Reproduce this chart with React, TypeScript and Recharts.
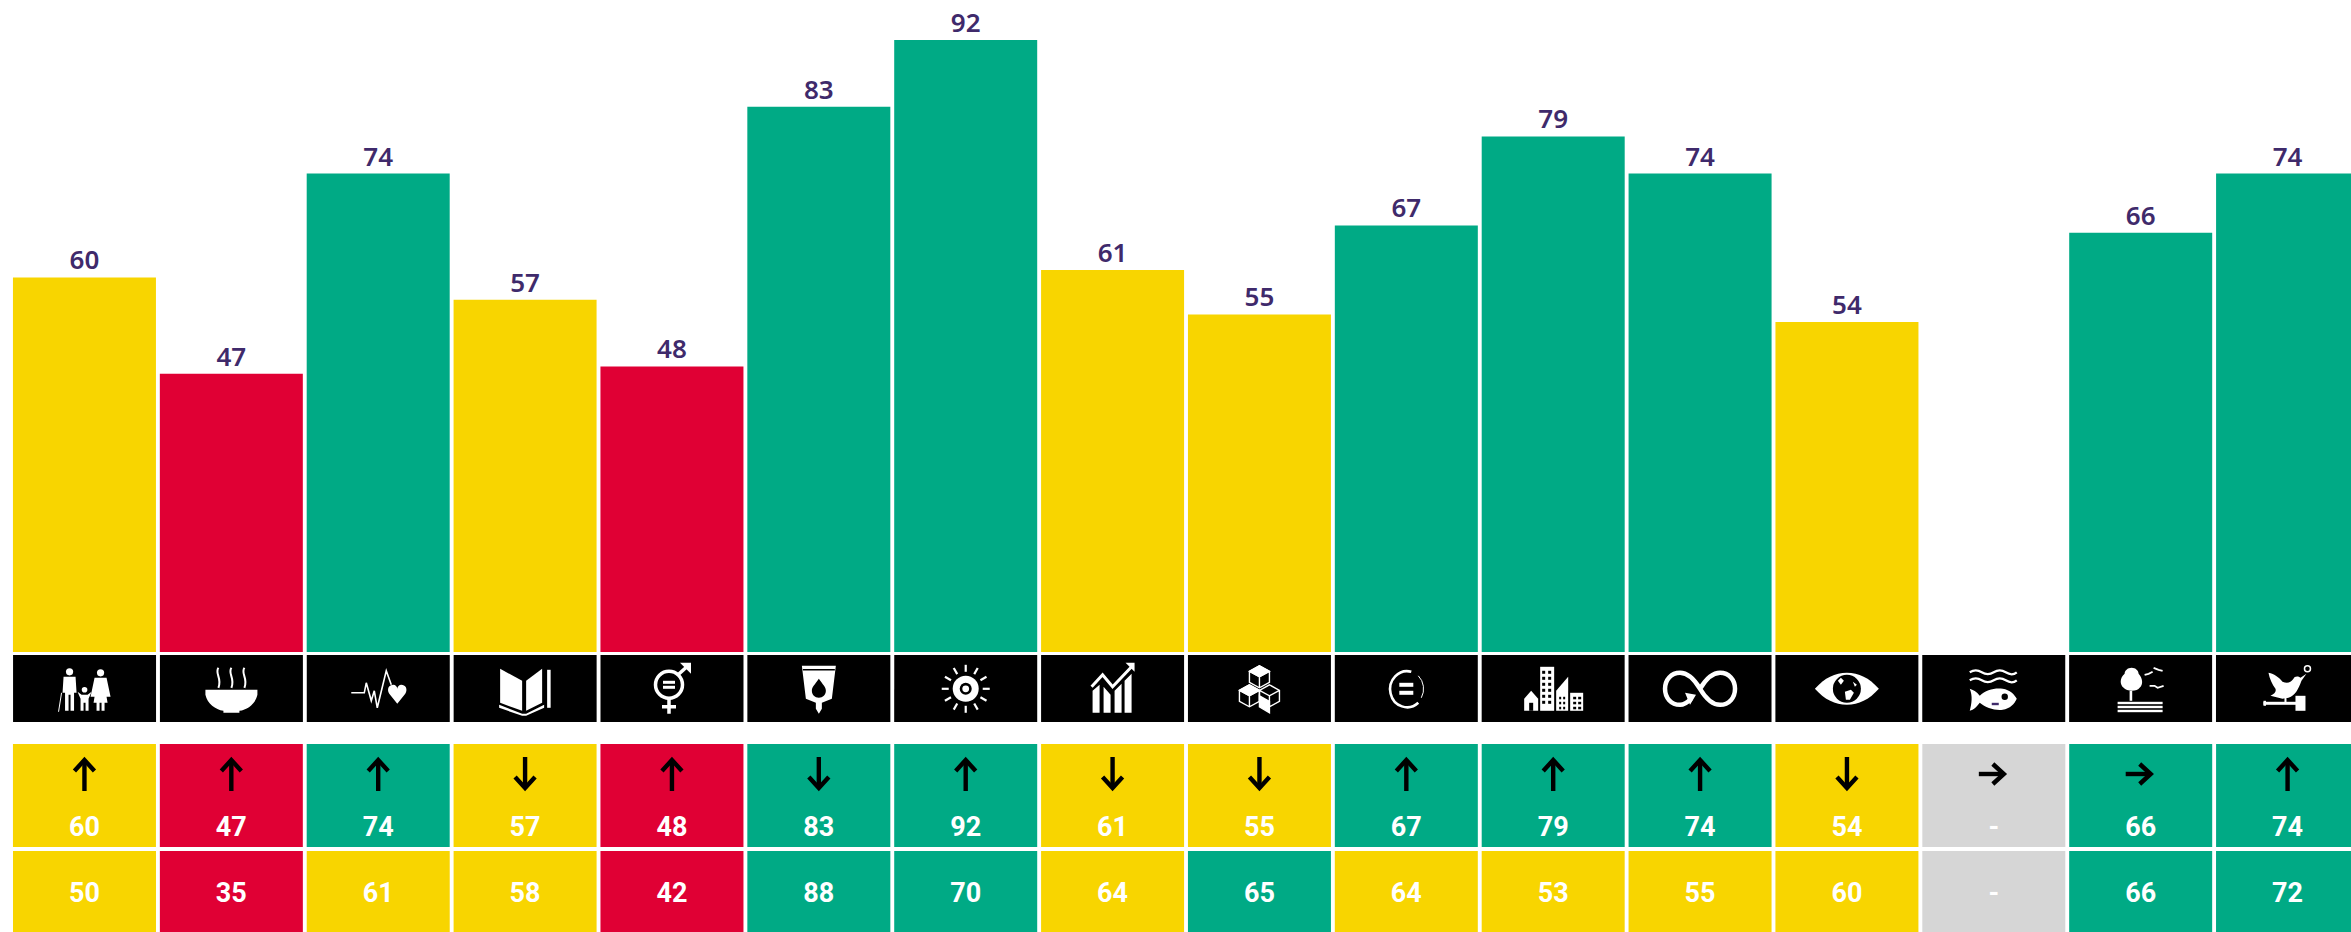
import { BarChart, Bar, Cell, LabelList, XAxis, YAxis } from "recharts";

const categories = [
  "SDG 1", "SDG 2", "SDG 3", "SDG 4", "SDG 5", "SDG 6", "SDG 7", "SDG 8",
  "SDG 9", "SDG 10", "SDG 11", "SDG 12", "SDG 13", "SDG 14", "SDG 15", "SDG 16",
];
const currentScores = [60, 47, 74, 57, 48, 83, 92, 61, 55, 67, 79, 74, 54, null, 66, 74];
const previousScores = [50, 35, 61, 58, 42, 88, 70, 64, 65, 64, 53, 55, 60, null, 66, 72];
const trends = ["up", "up", "up", "down", "up", "down", "up", "down", "down", "up", "up", "up", "down", "flat", "flat", "up"];

const GREEN = "#00aa85";
const YELLOW = "#f8d500";
const RED = "#e00034";
const GREY = "#d6d6d6";
const INK = "#3f2a6b";

const scoreColor = (v: number | null) => {
  if (v === null) return GREY;
  if (v >= 65) return GREEN;
  if (v >= 50) return YELLOW;
  return RED;
};

const table = categories.map((name, i) => ({
  name,
  current: currentScores[i],
  previous: previousScores[i],
  trend: trends[i],
  band: 1,
}));

const W = "#fff";
const K = "#000";

const Family = () => (
  <g fill={W}>
    <circle cx={-15} cy={-17} r={3.6} />
    <path d="M-21 -12H-9L-8 4H-10.5V22H-14V6H-16V22H-19.5V4H-22Z" />
    <path d="M-23 4L-26 23" stroke={W} strokeWidth={1} />
    <circle cx={0} cy={1} r={2.8} />
    <path d="M-7 3L-3 6H3L7 3L4 10V22H1V14H-1V22H-4V10Z" />
    <circle cx={16} cy={-16} r={3.6} />
    <path d="M10 -11H22L26 8H22L23 14H20V22H17V14H15V22H12V14H9L10 8H6Z" />
  </g>
);

const Bowl = () => (
  <g>
    <path d="M-26 1H26V6C24 15 16 21 8 22V24H-8V22C-16 21 -24 15 -26 6Z" fill={W} />
    <g fill="none" stroke={W} strokeWidth={2}>
      <path d="M-13 -21C-17 -15 -9 -11 -13 -1" />
      <path d="M0 -21C-4 -15 4 -11 0 -1" />
      <path d="M13 -21C9 -15 17 -11 13 -1" />
    </g>
  </g>
);

const Health = () => (
  <g>
    <path d="M-27 4H-14L-12 -6L-7 12L-4 2L-1 19L8 -18L13 -4" fill="none" stroke={W} strokeWidth={1.6} />
    <path d="M19 15L11 5C8 0 11 -4 15 -4C17 -4 19 -2 19 0C19 -2 21 -4 23 -4C27 -4 30 0 27 5Z" fill={W} />
  </g>
);

const BookIcon = () => (
  <g fill={W}>
    <path d="M-3 -8L-25 -20V14L-3 22Z" />
    <path d="M1 -8L17 -20V14L1 22Z" />
    <path d="M-26 16L-3 25H1L19 16V19L1 27H-3L-26 19Z" />
    <rect x={22} y={-19} width={3.5} height={38} />
  </g>
);

const Gender = () => (
  <g>
    <circle cx={-3} cy={-4} r={13.5} fill="none" stroke={W} strokeWidth={3.5} />
    <rect x={-9} y={-8} width={12} height={3} fill={W} />
    <rect x={-9} y={-3} width={12} height={3} fill={W} />
    <path d="M6 -14L16 -23" stroke={W} strokeWidth={3.5} />
    <path d="M8 -26H19V-15Z" fill={W} />
    <path d="M-3 10V25M-10 18H4" stroke={W} strokeWidth={3.5} />
  </g>
);

const Water = () => (
  <g>
    <path d="M-17 -23H17L13 10L3 14V20L0 25L-3 20V14L-13 10Z" fill={W} />
    <path d="M-16 -19H16" stroke={K} strokeWidth={1.5} />
    <path d="M0 -10C4 -4 7 -2 7 2C7 6 4 9 0 9C-4 9 -7 6 -7 2C-7 -2 -4 -4 0 -10Z" fill={K} />
  </g>
);

const Energy = () => (
  <g>
    {Array.from({ length: 12 }, (_, k) => (
      <path key={k} d="M0 -17V-24" stroke={W} strokeWidth={2.2} transform={`rotate(${k * 30})`} />
    ))}
    <circle r={13} fill={W} />
    <circle r={6} fill={K} />
    <circle r={3.4} fill={W} />
  </g>
);

const Growth = () => (
  <g>
    <path d="M-20 2L-13 -4V24H-20ZM-9 -2L-2 6V24H-9ZM2 2L9 -5V24H2ZM12 -8L19 -15V24H12Z" fill={W} />
    <path d="M-21 -2L-10 -14L0 -2L19 -22" fill="none" stroke={W} strokeWidth={3} />
    <path d="M13 -26H22V-17Z" fill={W} />
  </g>
);

const cubePath = "M0 -11L10 -5.5V5.5L0 11L-10 5.5V-5.5ZM-10 -5.5L0 0L10 -5.5M0 0V11";

const Cubes = () => (
  <g fill="none" stroke={W} strokeWidth={1.4}>
    <path d={cubePath} transform="translate(0,-12)" />
    <path d={cubePath} transform="translate(-10,7)" />
    <path d={cubePath} transform="translate(10,7)" />
    <path d="M0 -23L10 -17.5L0 -12L-10 -17.5Z" fill={W} />
    <path d="M-10 -4L0 1.5L-10 7L-20 1.5Z" fill={W} />
    <path d="M0 7L10 12.5V24L0 18Z" fill={W} />
  </g>
);

const Equal = () => (
  <g>
    <path d="M5 -17A17 18 0 1 0 12 14" fill="none" stroke={W} strokeWidth={2.6} />
    <path d="M12 -13A17 18 0 0 1 15 9" fill="none" stroke={W} strokeWidth={1} />
    <rect x={-7} y={-6} width={14} height={4} fill={W} />
    <rect x={-7} y={2} width={14} height={4} fill={W} />
  </g>
);

const City = () => (
  <g fill={W}>
    <path d="M-29 10L-22 2L-15 10V22H-29Z" />
    <rect x={-13} y={-22} width={14} height={44} />
    <path d="M3 22V2L15 -12V22Z" />
    <rect x={17} y={4} width={13} height={18} />
    <g fill={K}>
      {[-18, -12, -6, 0, 6, 12].map((dy) => (
        <g key={dy}>
          <rect x={-11} y={dy} width={3} height={3} />
          <rect x={-5} y={dy} width={3} height={3} />
        </g>
      ))}
      <rect x={-24} y={14} width={4} height={8} />
      {[8, 13, 18].map((dy) => (
        <g key={dy}>
          <rect x={6} y={dy} width={2} height={2.5} />
          <rect x={10} y={dy} width={2} height={2.5} />
          <rect x={20} y={dy} width={3} height={2.5} />
          <rect x={25} y={dy} width={3} height={2.5} />
        </g>
      ))}
    </g>
  </g>
);

const Infinity8 = () => (
  <g>
    <path
      d="M0 0C-6 -10 -12 -16 -20 -16C-29 -16 -35 -9 -35 0C-35 9 -29 16 -20 16C-15 16 -12 13 -9 10M0 0C6 -10 12 -16 20 -16C29 -16 35 -9 35 0C35 9 29 16 20 16C12 16 6 10 0 0Z"
      fill="none"
      stroke={W}
      strokeWidth={4.5}
    />
    <path d="M-15 4L-4 6L-10 16Z" fill={W} />
  </g>
);

const Eye = () => (
  <g>
    <path d="M-32 0C-22 -11 -12 -16 0 -16C12 -16 22 -11 32 0C22 11 12 16 0 16C-12 16 -22 11 -32 0Z" fill={W} />
    <circle r={14} fill={K} />
    <path d="M-9 -8L-6 -11L-3 -8L-6 -4ZM-2 3L4 1L7 4L3 11L-1 11ZM6 -7L10 -4L8 -2Z" fill={W} />
  </g>
);

const Fish = () => (
  <g>
    <path
      d="M-24 -16.5C-20 -19 -16 -19 -12 -16.5C-8 -14 -4 -14 0 -16.5C4 -19 8 -19 12 -16.5C16 -14 20 -14 23 -16.5M-24 -8.5C-20 -11 -16 -11 -12 -8.5C-8 -6 -4 -6 0 -8.5C4 -11 8 -11 12 -8.5C16 -6 20 -6 23 -8.5"
      fill="none"
      stroke={W}
      strokeWidth={2.2}
    />
    <path d="M-24 0C-21 1 -17 3 -14 7C-8 1 1 -1 9 0C16 1 21 6 23 10C21 15 16 20 9 21C1 22 -8 19 -14 14C-17 18 -20 21 -24 22C-22 15 -21 7 -24 0Z" fill={W} />
    <circle cx={11} cy={8} r={3.2} fill={K} />
    <rect x={-2} y={14} width={7} height={2.4} fill={INK} />
  </g>
);

const Tree = () => (
  <g>
    <path d="M-9 -21C-5 -21 -2 -18 -2 -15C2 -11 3 -4 -1 -1C-3 3 -14 3 -17 -1C-21 -4 -21 -11 -16 -15C-16 -18 -13 -21 -9 -21Z" fill={W} />
    <rect x={-11} y={2} width={2.6} height={10} fill={W} />
    <g fill={W}>
      <rect x={-23} y={13} width={45} height={2.4} />
      <rect x={-23} y={17} width={45} height={2.4} />
      <rect x={-23} y={21} width={45} height={2.4} />
    </g>
    <path d="M4 -14L8 -15L12 -17M13 -21L18 -19L22 -18M9 -3L14 -3L17 -1L23 -3" fill="none" stroke={W} strokeWidth={1.8} />
  </g>
);

const Dove = () => (
  <g fill={W}>
    <path d="M-19 -16C-13 -15 -8 -11 -5 -7C0 -5 3 -6 6 -10C7 -13 11 -13 13 -11L19 -15L14 -8C11 0 8 7 1 9L-5 10L-17 7C-13 5 -11 3 -12 0C-15 -4 -18 -10 -19 -16Z" />
    <circle cx={20} cy={-20} r={3} fill="none" stroke={W} strokeWidth={1.5} />
    <rect x={-24} y={13} width={34} height={3} />
    <rect x={-3} y={9} width={2} height={5} />
    <rect x={8} y={7} width={10} height={15} />
    <rect x={-24} y={12} width={2.5} height={5} />
  </g>
);

const icons = [Family, Bowl, Health, BookIcon, Gender, Water, Energy, Growth, Cubes, Equal, City, Infinity8, Eye, Fish, Tree, Dove];

const IconLabel = (props: any) => {
  const box = props.viewBox ?? props;
  const Icon = icons[props.index];
  if (!Icon) return null;
  return (
    <g transform={`translate(${box.x + box.width / 2},${box.y + box.height / 2})`}>
      <Icon />
    </g>
  );
};

const Arrow = ({ dir }: { dir: string }) => {
  const rot = dir === "up" ? 0 : dir === "down" ? 180 : 90;
  return (
    <g transform={`rotate(${rot})`}>
      <path d={dir === "flat" ? "M0 -9V15" : "M0 -13V17"} stroke="#000" strokeWidth={4.4} fill="none" />
      <path d={dir === "flat" ? "M-10 1L0 -10L10 1" : "M-10 -3L0 -14L10 -3"} stroke="#000" strokeWidth={4.4} fill="none" />
    </g>
  );
};

const ValueText = ({ x, y, value }: { x: number; y: number; value: number | null }) => (
  <text x={x} y={y + 9.5} textAnchor="middle" fill="#fff" fontFamily="Roboto" fontWeight={700} fontSize={27}>
    {value === null ? "-" : value}
  </text>
);

const TrendLabel = (props: any) => {
  const box = props.viewBox ?? props;
  const row = table[props.index];
  if (!row) return null;
  const cx = box.x + box.width / 2;
  return (
    <g>
      <g transform={`translate(${cx},${box.y + 30})`}>
        <Arrow dir={row.trend} />
      </g>
      <ValueText x={cx} y={box.y + 82.5} value={row.current} />
    </g>
  );
};

const PreviousLabel = (props: any) => {
  const box = props.viewBox ?? props;
  const row = table[props.index];
  if (!row) return null;
  return <ValueText x={box.x + box.width / 2} y={box.y + 42} value={row.previous} />;
};

const CHART_W = 2362;
const MARGIN = { left: 11.2, right: 0.8, top: 0, bottom: 0 };

function Row({ top, height, colors, content }: { top: number; height: number; colors: string[]; content: any }) {
  return (
    <div style={{ position: "absolute", left: 0, top }}>
      <BarChart width={CHART_W} height={height} data={table} margin={MARGIN} barCategoryGap={1.75}>
        <XAxis dataKey="name" hide />
        <YAxis hide domain={[0, 1]} />
        <Bar dataKey="band" isAnimationActive={false}>
          {colors.map((c, i) => (
            <Cell key={i} fill={c} />
          ))}
          <LabelList dataKey="band" content={content} />
        </Bar>
      </BarChart>
    </div>
  );
}

export default function App() {
  return (
    <div style={{ position: "absolute", left: 0, top: 0, width: 2351, height: 932, overflow: "hidden", background: "#fff" }}>
      <div style={{ position: "absolute", left: 0, top: 0 }}>
        <BarChart width={CHART_W} height={652} data={table} margin={{ ...MARGIN, top: 40 }} barCategoryGap={1.75}>
          <XAxis dataKey="name" hide />
          <YAxis hide domain={[9.5, 92]} />
          <Bar dataKey="current" isAnimationActive={false}>
            {currentScores.map((v, i) => (
              <Cell key={i} fill={scoreColor(v)} />
            ))}
            <LabelList
              dataKey="current"
              position="top"
              offset={8}
              fill={INK}
              fontFamily="'Noto Sans'"
              fontWeight={600}
              fontSize={26}
            />
          </Bar>
        </BarChart>
      </div>
      <Row top={654.7} height={67.6} colors={categories.map(() => "#000")} content={IconLabel} />
      <Row top={744.3} height={103} colors={currentScores.map(scoreColor)} content={TrendLabel} />
      <Row top={850.7} height={81.3} colors={previousScores.map(scoreColor)} content={PreviousLabel} />
    </div>
  );
}
